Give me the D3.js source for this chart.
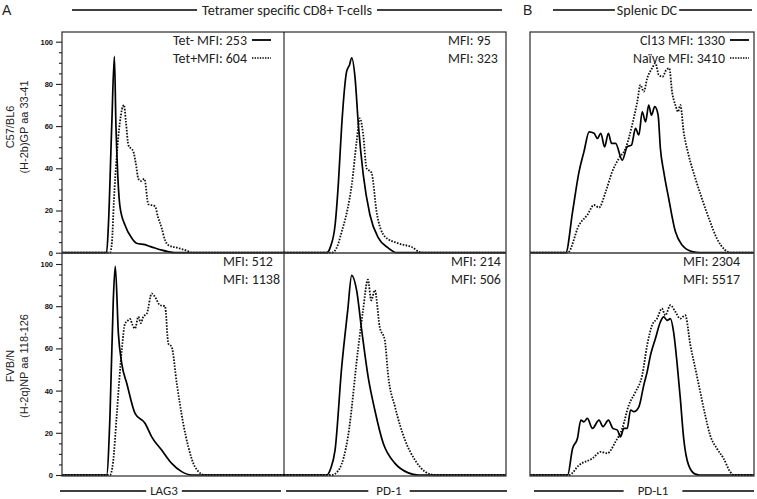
<!DOCTYPE html>
<html><head><meta charset="utf-8">
<script src="https://cdn.jsdelivr.net/npm/d3@7/dist/d3.min.js"></script>
<style>body{margin:0;background:#fff}svg{display:block}</style>
</head><body>
<svg id="c" width="757" height="499"></svg>
<script>
// ---------- DATA ----------
const panelLetters = ["A", "B"];
const groupTitles = ["Tetramer specific CD8+ T-cells", "Splenic DC"];
const markers = ["LAG3", "PD-1", "PD-L1"];
const rowLabels = [["C57/BL6", "(H-2b)GP aa 33-41"], ["FVB/N", "(H-2q)NP aa 118-126"]];
const yTicks = [0, 20, 40, 60, 80, 100];
const yMinorTicks = d3.range(0, 101, 5);
// MFI labels per panel: row 0 (LAG3, PD-1, PD-L1), then row 1
const mfiLabels = [
  ["Tet- MFI: 253", "Tet+MFI: 604"], ["MFI: 95", "MFI: 323"], ["Cl13 MFI: 1330", "Naïve MFI: 3410"],
  ["MFI: 512", "MFI: 1138"], ["MFI: 214", "MFI: 506"], ["MFI: 2304", "MFI: 5517"]
];
// histograms: [relative fluorescence position (0-100 of panel width), % of max]
const lag3C57Neg = [[0,0],[20.1,0],[20.9,13],[22.4,60],[23.6,93],[24.3,60],[25.2,35],[26.1,22],[28.4,13],[31.4,7],[33.6,4.5],[37.4,3.8],[39.6,3],[41.9,2.2],[45,1.2],[47.7,0.5],[50.9,0],[100,0]];
const lag3C57Pos = [[0,0],[21.6,0],[22.5,5],[23.4,25],[24.6,45],[26.1,62],[27.9,70],[28.8,62],[29.9,51],[32.1,48],[33.3,42],[34.4,35],[35.6,34],[37.1,35],[38.9,23],[41.9,22],[43.2,17],[44.9,11.7],[46.4,6],[47.9,3.6],[52.4,2.2],[56.9,0.7],[58.6,0],[100,0]];
const pd1C57Neg = [[0,0],[19.2,0],[21,3],[23,13],[24.5,33],[26,60.5],[28.2,85.8],[29.5,89],[30.5,92.4],[32,83],[33.5,60.5],[35.7,37],[38.7,18],[42.5,7],[47,2.2],[50.8,0],[100,0]];
const pd1C57Pos = [[0,0],[21.5,0],[24,3],[26,10],[28.5,20],[30.5,32],[32.7,52.6],[34.2,63.7],[35.7,55.8],[37.2,40],[39.4,38],[41.7,19.4],[45.5,7.6],[51.5,4.4],[57.5,2.7],[62,0],[100,0]];
const pdl1C57Cl13 = [[0,0],[16,0],[19,19.4],[21.9,38.4],[24.1,47.9],[26.4,57.3],[28.6,56.6],[30.1,54.2],[31.6,56.6],[33.3,50.2],[35,56.6],[36.4,51.8],[38.2,51.8],[41.2,43.9],[43.4,50.2],[45.3,51],[47.1,58.9],[48.6,55.8],[50.1,66.8],[51.6,62],[53,70],[54.2,65.2],[55.7,69.2],[57.2,65.2],[58.2,49.5],[59.7,38.4],[61.9,25.8],[64.9,10],[67.9,3.6],[72.3,0.5],[76,0],[100,0]];
const pdl1C57Naive = [[0,0],[16.8,0],[21.9,13.1],[25.6,17.9],[28.6,22.6],[30.8,21.4],[33.8,28.9],[36.7,38.4],[39.7,44.7],[42.7,49.5],[45.6,60.5],[47.9,71.6],[49.3,79.5],[50.8,76.3],[52.3,82.6],[54.5,87.4],[56,89.8],[57.5,84.2],[59.2,83.4],[60.8,86.6],[62.2,87.4],[63.4,76.3],[64.9,70],[66.1,66.8],[67.1,70],[68.6,57.3],[70.8,46.3],[73.8,35.3],[76.7,25.8],[80.4,14.7],[83.4,6.8],[87.1,1.3],[90,0],[100,0]];
const lag3FvbNeg = [[0,0],[20.1,0],[21.6,27.6],[23.1,82.8],[24,98.9],[25.4,67],[26.9,52.9],[29.2,43.4],[32.9,29.2],[37.4,24.5],[40.4,18.1],[44.9,11.8],[49.4,5.5],[53.9,1.6],[58.4,0],[100,0]];
const lag3FvbPos = [[0,0],[21.6,0],[23,6],[24.6,27.6],[26.9,59],[28.4,71.8],[29.5,73],[30.6,74],[31.8,71],[32.9,69.4],[34.4,75],[35.5,72],[36.6,75],[38.2,76.5],[40.4,86],[41.9,84.4],[44.1,80.5],[46.4,80],[47.9,62.3],[49.4,60.7],[51.7,43.4],[54.6,24.5],[56.9,13.4],[59.9,3.9],[64.4,0],[100,0]];
const pd1FvbNeg = [[0,0],[19.2,0],[21,3],[23,11.8],[26,51.3],[28.7,78],[30.5,94.6],[32.7,87.6],[35,68.6],[37.9,46.5],[40.9,30.8],[44.7,15],[50,5.5],[56,1],[60.5,0],[100,0]];
const pd1FvbPos = [[0,0],[21.5,0],[25,3],[28.8,18],[33.3,59],[35.6,78],[37.8,92.6],[39.3,82.8],[40.9,87.6],[43.1,70.2],[45.4,63.9],[47,46.5],[50,32.3],[54.5,16.6],[59,7.1],[63.5,1.6],[68,0],[100,0]];
const pdl1FvbCl13 = [[0,0],[16.8,0],[19,12.6],[21.2,17.4],[22.7,26],[24.1,25.2],[25.6,26.8],[27.9,22.1],[30.8,26],[32.6,22.9],[35,26],[37,22.1],[39,21.3],[40.4,18.1],[41.9,22.1],[43.4,22.1],[44.9,30.8],[46.4,30],[48.6,32.3],[50.8,42.6],[52.3,48.9],[53.8,56.8],[56,64.7],[58.2,72.5],[59.7,74.9],[61.2,73.3],[62.7,74.1],[64.1,67.8],[65.6,53.6],[67.1,36.3],[68.6,17.4],[70.8,4.7],[73.8,0.4],[75.6,0],[100,0]];
const pdl1FvbNaive = [[0,0],[17.5,0],[21.9,4.7],[27.9,7.9],[31.6,11],[34.5,10.3],[38.2,15.8],[41.2,22.1],[44.1,33.1],[47.1,39.4],[50.1,47.3],[52.3,61.5],[54.5,71],[56.7,74.1],[58.9,78.9],[60.4,75.7],[62.7,80.5],[64.9,77.3],[67.1,74.1],[69.3,75.7],[71.6,61.5],[73.8,50.5],[76,39.4],[78.2,28.4],[80.4,18.9],[83.4,12.6],[86.4,7.9],[89.3,1.6],[91,0],[100,0]];

// ---------- LAYOUT ----------
const cols = [[62, 284], [284, 506], [530, 754]];
const rows = [[32, 252.7], [253, 475]];
const panels = [
  {r:0, c:0, solid:lag3C57Neg, dotted:lag3C57Pos, text:mfiLabels[0], legend:true, tx:247},
  {r:0, c:1, solid:pd1C57Neg, dotted:pd1C57Pos, text:mfiLabels[1], legend:false, tx:448},
  {r:0, c:2, solid:pdl1C57Cl13, dotted:pdl1C57Naive, text:mfiLabels[2], legend:true, tx:725},
  {r:1, c:0, solid:lag3FvbNeg, dotted:lag3FvbPos, text:mfiLabels[3], legend:false, tx:223},
  {r:1, c:1, solid:pd1FvbNeg, dotted:pd1FvbPos, text:mfiLabels[4], legend:false, tx:451},
  {r:1, c:2, solid:pdl1FvbCl13, dotted:pdl1FvbNaive, text:mfiLabels[5], legend:false, tx:683}
];
const svg = d3.select("#c");
const sansUI = "Carlito, Lato, 'Open Sans', sans-serif";
const arial = "Arial, 'Liberation Sans', sans-serif";
const frameColor = "#3a3a3a";

// font size so that a sample string spans a given width
function fitSize(str, family, target) {
  const t = svg.append("text").attr("font-family", family).attr("font-size", 20).text(str);
  const w = t.node().getComputedTextLength();
  t.remove();
  return 20 * target / w;
}
const titleSize = fitSize(groupTitles[0], sansUI, 170);
const mfiSize = fitSize(mfiLabels[0][0], sansUI, 74);
const rowSize = fitSize(rowLabels[1][1], arial, 104);

const yScales = rows.map(([t, b]) => d3.scaleLinear().domain([0, 100]).range([b, b - 211]));
const xScales = cols.map(([l, r]) => d3.scaleLinear().domain([0, 100]).range([l, r]));

// curves
panels.forEach(p => {
  const x = xScales[p.c], y = yScales[p.r];
  const line = d3.line().x(d => x(d[0])).y(d => y(d[1])).curve(d3.curveMonotoneX);
  svg.append("path").attr("d", line(p.dotted)).attr("fill", "none")
    .attr("stroke", "#111").attr("stroke-width", 1.8).attr("stroke-dasharray", "1.6,1.4");
  svg.append("path").attr("d", line(p.solid)).attr("fill", "none")
    .attr("stroke", "#000").attr("stroke-width", 1.7).attr("stroke-linejoin", "round");
});

// frames
const frame = svg.append("g").attr("fill", "none").attr("stroke", frameColor).attr("stroke-width", 1.3);
frame.append("rect").attr("x", cols[0][0]).attr("y", rows[0][0]).attr("width", cols[1][1] - cols[0][0]).attr("height", rows[1][1] - rows[0][0] + 1);
frame.append("rect").attr("x", cols[2][0]).attr("y", rows[0][0]).attr("width", cols[2][1] - cols[2][0]).attr("height", rows[1][1] - rows[0][0] + 1);
frame.append("line").attr("x1", cols[0][1]).attr("x2", cols[0][1]).attr("y1", rows[0][0]).attr("y2", rows[1][1] + 1).attr("stroke", "#000").attr("stroke-width", 1);
[0, 2].forEach(c => frame.append("line").attr("x1", cols[c][0]).attr("x2", c === 0 ? cols[1][1] : cols[2][1])
  .attr("y1", rows[1][0]).attr("y2", rows[1][0]));

// y axes
rows.forEach((rw, i) => {
  const g = svg.append("g").attr("transform", `translate(${cols[0][0]},0)`);
  g.call(d3.axisLeft(yScales[i]).tickValues(yMinorTicks.filter(v => v % 20 !== 0)).tickSize(3).tickFormat(""))
    .call(a => a.select(".domain").remove());
  const gm = svg.append("g").attr("transform", `translate(${cols[0][0]},0)`);
  gm.call(d3.axisLeft(yScales[i]).tickValues(yTicks).tickSize(6).tickPadding(3).tickFormat(d3.format("d")))
    .call(a => a.select(".domain").remove());
  gm.selectAll("text").attr("font-family", arial).attr("font-size", 7.5).attr("font-weight", "bold").attr("fill", "#111");
  svg.selectAll(".tick line").attr("stroke", "#222").attr("stroke-width", 1.1);
});

// MFI labels and legend samples
panels.forEach(p => {
  const base = rows[p.r][0];
  p.text.forEach((t, k) => {
    const yy = base + 12.5 + k * 18;
    svg.append("text").attr("x", p.tx).attr("y", yy)
      .attr("text-anchor", p.legend ? "end" : "start")
      .attr("font-family", sansUI).attr("font-size", mfiSize).attr("fill", "#222").text(t);
    if (p.legend) {
      svg.append("line").attr("x1", p.tx + 5).attr("x2", p.tx + 24).attr("y1", yy - 4.5).attr("y2", yy - 4.5)
        .attr("stroke", "#000").attr("stroke-width", k === 0 ? 1.8 : 1.6)
        .attr("stroke-dasharray", k === 0 ? null : "1.4,1.2");
    }
  });
});

// row labels
rowLabels.forEach((lab, i) => {
  const cy = i === 0 ? 127 : 366;
  lab.forEach((t, k) => {
    svg.append("text").attr("transform", `translate(${k === 0 ? 14 : 27.5},${cy}) rotate(-90)`)
      .attr("text-anchor", "middle").attr("font-family", arial).attr("font-size", rowSize).attr("fill", "#222").text(t);
  });
});

// letters
svg.append("text").attr("x", 2).attr("y", 15).attr("font-family", arial).attr("font-size", 14).attr("fill", "#222").text(panelLetters[0]);
svg.append("text").attr("x", 523).attr("y", 15).attr("font-family", arial).attr("font-size", 14).attr("fill", "#222").text(panelLetters[1]);

// bracket titles with lines
function labelLine(txt, x0, x1, cx, ly, ty, gap, size) {
  const t = svg.append("text").attr("x", cx).attr("y", ty).attr("text-anchor", "middle")
    .attr("font-family", sansUI).attr("font-size", size).attr("fill", "#222").text(txt);
  const w = t.node().getComputedTextLength();
  svg.append("line").attr("x1", x0).attr("x2", cx - w / 2 - gap).attr("y1", ly).attr("y2", ly).attr("stroke", "#000").attr("stroke-width", 1.6);
  svg.append("line").attr("x1", cx + w / 2 + gap).attr("x2", x1).attr("y1", ly).attr("y2", ly).attr("stroke", "#000").attr("stroke-width", 1.6);
}
const markSize = titleSize * 0.92;
labelLine(groupTitles[0], 72, 502, 287, 10, 14.5, 5, titleSize);
labelLine(groupTitles[1], 553, 752, 647, 10, 14.5, 2, titleSize);
labelLine(markers[0], 60, 281, 164, 491, 494.5, 4, markSize);
labelLine(markers[1], 286, 507, 389, 491, 494.5, 8, markSize);
labelLine(markers[2], 534, 754, 653, 491, 494.5, 14, markSize);
</script>
</body></html>
